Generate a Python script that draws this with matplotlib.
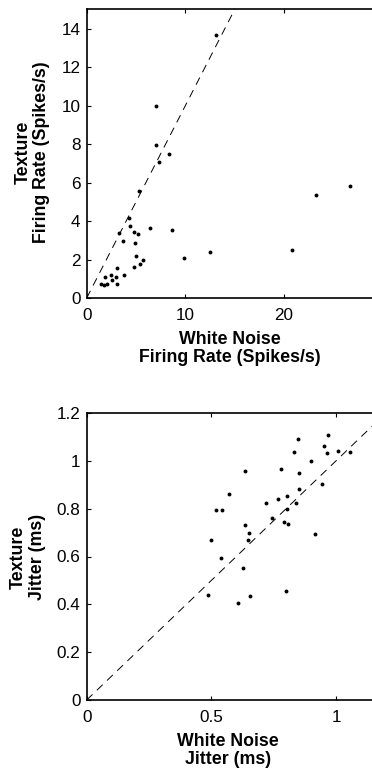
import matplotlib
matplotlib.use("Agg")
import matplotlib.pyplot as plt
import numpy as np

plt.rcParams['font.family'] = ['Liberation Sans', 'DejaVu Sans']

# Firing rate (spikes/s): white noise vs texture
rate_wn = [13.07, 7.02, 7.02, 8.37, 7.29, 5.27, 26.68, 23.23, 4.32, 4.39, 6.38, 8.64,
           3.30, 4.82, 5.20, 3.65, 4.93, 5.03, 5.74, 5.40, 4.82, 9.86, 12.52, 20.8,
           3.04, 3.75, 2.43, 2.53, 1.82, 2.93, 3.10, 1.42, 1.79, 2.06]
rate_tx = [13.64, 9.96, 7.94, 7.47, 7.09, 5.57, 5.84, 5.34, 4.18, 3.72, 3.63, 3.54,
           3.39, 3.44, 3.35, 2.94, 2.84, 2.16, 2.00, 1.76, 1.62, 2.09, 2.37, 2.51,
           1.57, 1.21, 1.19, 0.93, 1.07, 1.07, 0.74, 0.71, 0.66, 0.71]

# Jitter (ms): white noise vs texture
jit_wn = [0.969, 0.848, 0.951, 1.009, 0.830, 0.965, 1.056, 0.901, 0.635, 0.781, 0.850,
          0.944, 0.850, 0.572, 0.805, 0.769, 0.719, 0.840, 0.519, 0.544, 0.805, 0.743,
          0.790, 0.809, 0.635, 0.651, 0.916, 0.497, 0.646, 0.540, 0.628, 0.798, 0.485,
          0.655, 0.608]
jit_tx = [1.106, 1.092, 1.061, 1.043, 1.036, 1.032, 1.036, 1.001, 0.957, 0.967, 0.949,
          0.902, 0.884, 0.862, 0.853, 0.839, 0.824, 0.824, 0.794, 0.794, 0.800, 0.761,
          0.745, 0.737, 0.730, 0.700, 0.696, 0.667, 0.667, 0.594, 0.550, 0.456, 0.439,
          0.434, 0.405]

rate_xticks = [0, 10, 20]
rate_yticks = [0, 2, 4, 6, 8, 10, 12, 14]
jit_xticks = [0, 0.5, 1]
jit_yticks = [0, 0.2, 0.4, 0.6, 0.8, 1.0, 1.2]
jit_xticklabels = ['0', '0.5', '1']
jit_yticklabels = ['0', '0.2', '0.4', '0.6', '0.8', '1', '1.2']

rate_xlabel = ['White Noise', 'Firing Rate (Spikes/s)']
rate_ylabel = ['Texture', 'Firing Rate (Spikes/s)']
jit_xlabel = ['White Noise', 'Jitter (ms)']
jit_ylabel = ['Texture', 'Jitter (ms)']

W, H = 372, 774
fig = plt.figure(figsize=(W / 100, H / 100), dpi=100)

def px_axes(l, r, t, b):
    return fig.add_axes([l / W, 1 - b / H, (r - l) / W, (b - t) / H])

ax1 = px_axes(86.7, 382.8, 9.3, 298)
ax2 = px_axes(86.7, 385.9, 413, 700)

TFS = 12.3
LFS = 12.8

def style(ax, xlim, ylim, xt, yt, xtl=None, ytl=None):
    ax.set_xlim(*xlim)
    ax.set_ylim(*ylim)
    ax.set_xticks(xt)
    ax.set_yticks(yt)
    if xtl is not None:
        ax.set_xticklabels(xtl)
    if ytl is not None:
        ax.set_yticklabels(ytl)
    ax.tick_params(direction='in', top=True, right=True, length=3, width=0.8,
                   labelsize=TFS)
    ax.tick_params(axis='x', pad=7.5)
    ax.tick_params(axis='y', pad=4.5)
    for s in ax.spines.values():
        s.set_linewidth(1.2)

def labels(xl, yl, axis_bottom_px, xcenter_px, ycenter_px, ylab_x):
    for dy, txt in zip([46, 64.5], xl):
        fig.text(xcenter_px / W, 1 - (axis_bottom_px + dy) / H, txt,
                 ha='center', va='baseline', fontsize=LFS, fontweight='bold')
    for x, txt in zip(ylab_x, yl):
        fig.text(x / W, 1 - ycenter_px / H, txt, rotation=90,
                 ha='center', va='center', fontsize=LFS, fontweight='bold')

dash = (0, (8.3, 6.2))

ax1.plot([0, 30], [0, 30], linestyle=dash, color='black', linewidth=0.7)
ax1.plot(rate_wn, rate_tx, 'o', color='black', markersize=2.8, markeredgewidth=0)
style(ax1, (0, 30), (0, 15), rate_xticks, rate_yticks)
labels(rate_xlabel, rate_ylabel, 298, 230, 152, [23, 42])

ax2.plot([0, 1.2], [0, 1.2], linestyle=dash, color='black', linewidth=0.7)
ax2.plot(jit_wn, jit_tx, 'o', color='black', markersize=2.8, markeredgewidth=0)
style(ax2, (0, 1.2), (0, 1.2), jit_xticks, jit_yticks, jit_xticklabels, jit_yticklabels)
labels(jit_xlabel, jit_ylabel, 700, 228, 557, [18, 37.5])

fig.savefig('out.png', dpi=100)
